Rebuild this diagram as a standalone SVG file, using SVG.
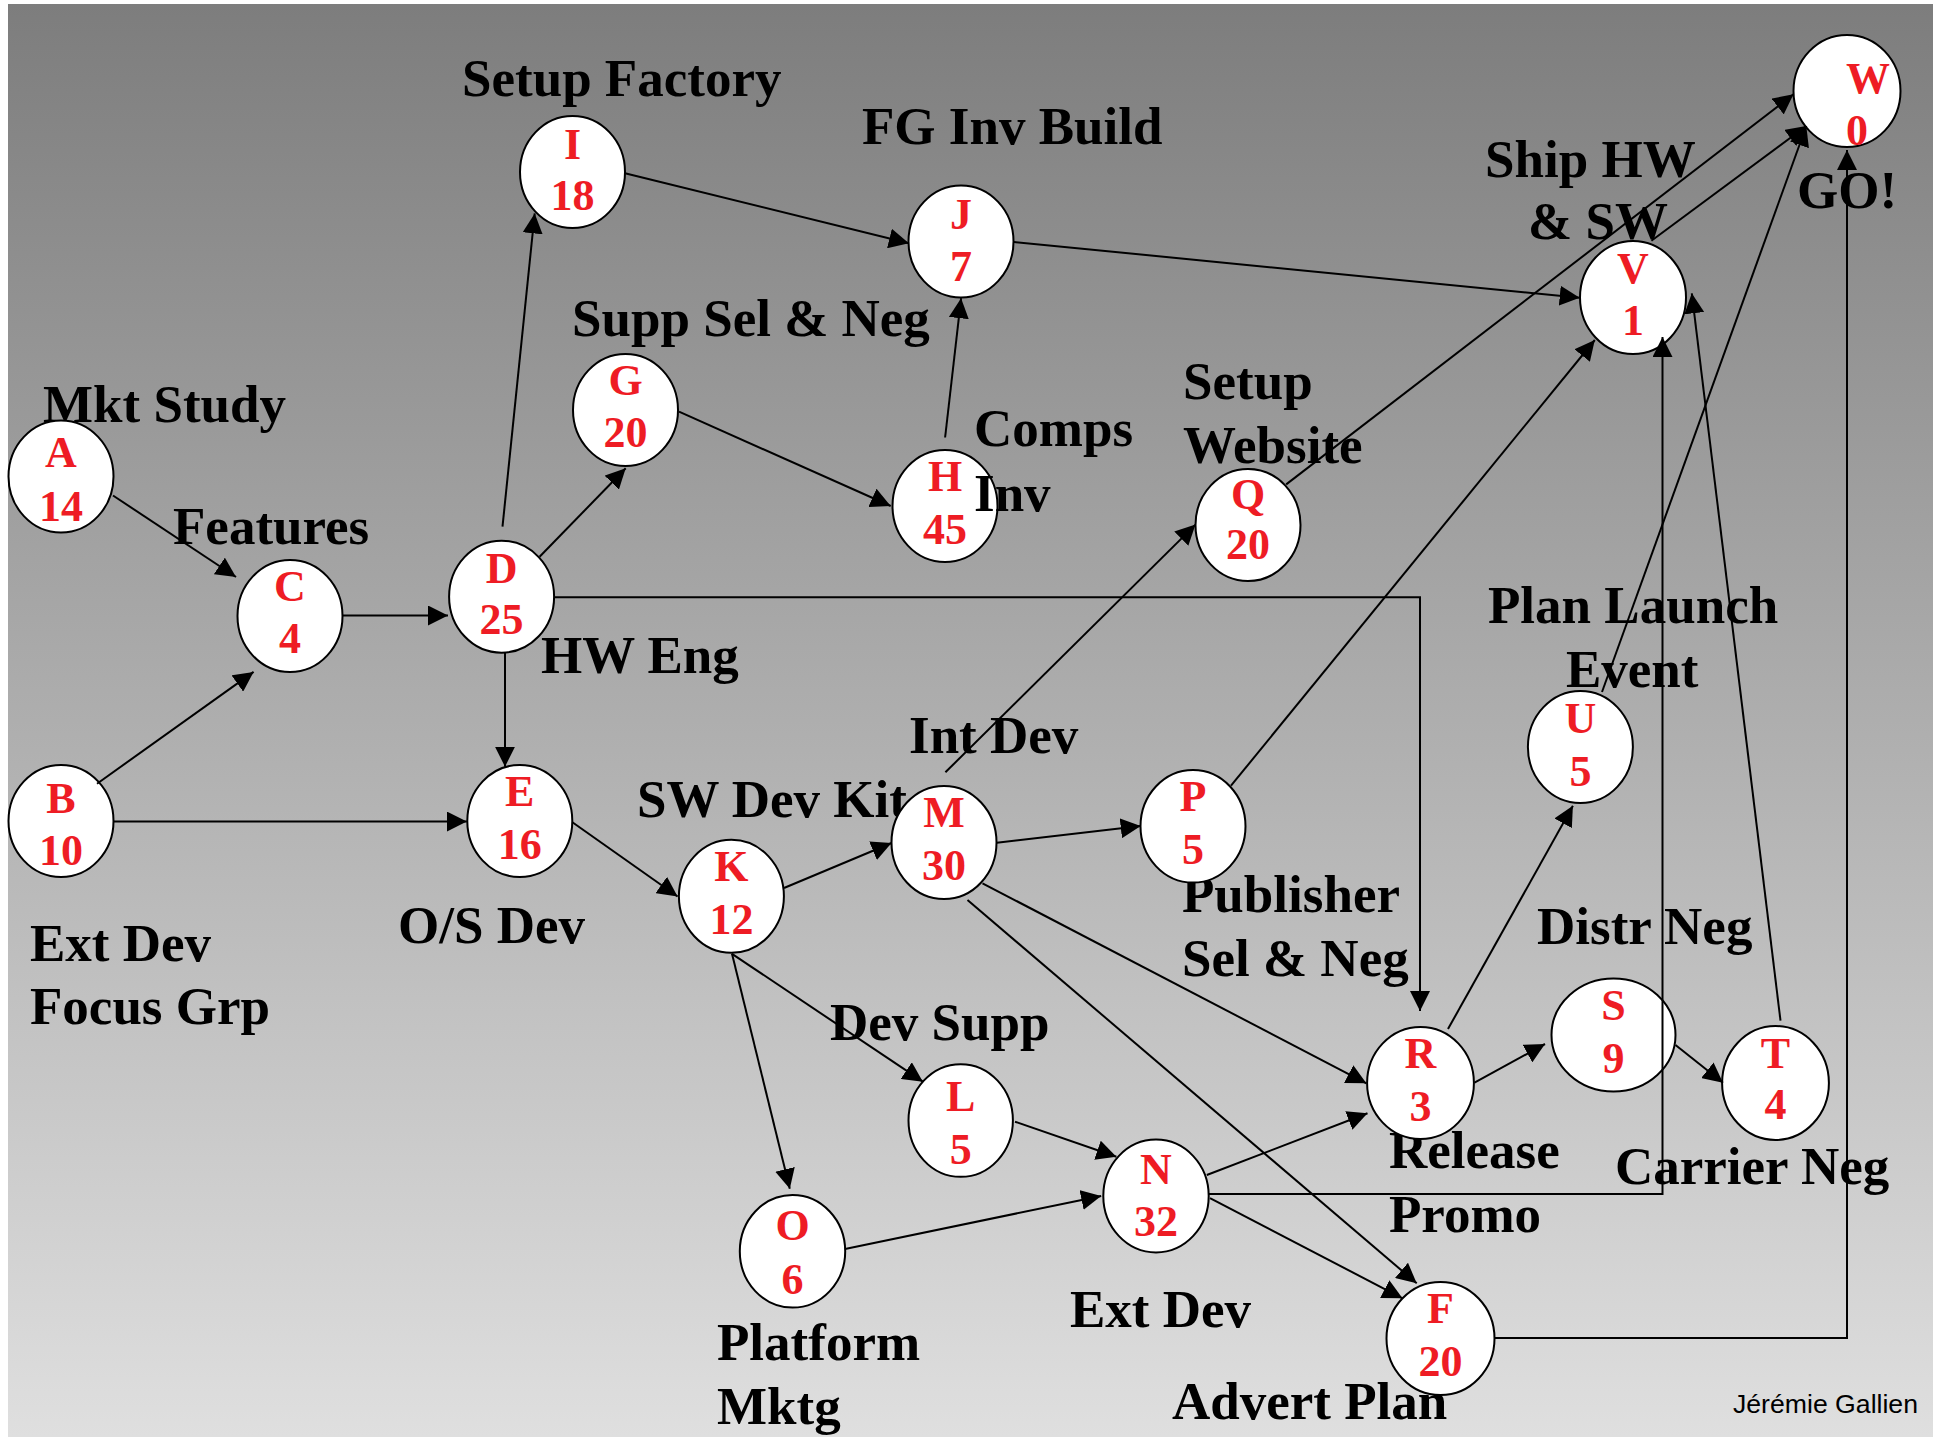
<svg xmlns="http://www.w3.org/2000/svg" width="1933" height="1437" viewBox="0 0 1933 1437">
<defs>
<linearGradient id="bg" x1="0" y1="0" x2="0" y2="1">
<stop offset="0" stop-color="#7d7d7d"/>
<stop offset="1" stop-color="#dfdfdf"/>
</linearGradient>
<marker id="ah" viewBox="0 0 20 20" refX="20" refY="10" markerWidth="20" markerHeight="20" markerUnits="userSpaceOnUse" orient="auto">
<path d="M0,0 L20,10 L0,20 z" fill="#000"/>
</marker>
<style>
.lbl{font-family:"Liberation Serif","Times New Roman",serif;font-weight:bold;font-size:53px;fill:#000}
.nd ellipse{fill:#fff;stroke:#000;stroke-width:2}
.nd text{font-family:"Liberation Serif","Times New Roman",serif;font-weight:bold;font-size:44px;fill:#ee1c24;text-anchor:middle}
.c{fill:none;stroke:#000;stroke-width:2;marker-end:url(#ah)}
.sig{font-family:"Liberation Sans",Arial,sans-serif;font-size:25px;fill:#000}
</style>
</defs>
<rect x="0" y="0" width="1933" height="1437" fill="#fff"/>
<rect x="8" y="4" width="1925" height="1433" fill="url(#bg)"/>

<g id="labels">
<text class="lbl" x="462" y="96">Setup Factory</text>
<text class="lbl" x="862" y="144">FG Inv Build</text>
<text class="lbl" x="572" y="336">Supp Sel &amp; Neg</text>
<text class="lbl" x="43" y="422">Mkt Study</text>
<text class="lbl" x="173" y="544">Features</text>
<text class="lbl" x="541" y="673">HW Eng</text>
<text class="lbl" x="1183" y="399">Setup</text>
<text class="lbl" x="1183" y="463">Website</text>
<text class="lbl" x="1485" y="177">Ship HW</text>
<text class="lbl" x="1528" y="239">&amp; SW</text>
<text class="lbl" x="1797" y="208">GO!</text>
<text class="lbl" x="1488" y="623">Plan Launch</text>
<text class="lbl" x="1566" y="687">Event</text>
<text class="lbl" x="909" y="753">Int Dev</text>
<text class="lbl" x="637" y="817">SW Dev Kit</text>
<text class="lbl" x="1182" y="912">Publisher</text>
<text class="lbl" x="1182" y="976">Sel &amp; Neg</text>
<text class="lbl" x="1537" y="944">Distr Neg</text>
<text class="lbl" x="830" y="1040">Dev Supp</text>
<text class="lbl" x="1389" y="1168">Release</text>
<text class="lbl" x="1389" y="1232">Promo</text>
<text class="lbl" x="1615" y="1184">Carrier Neg</text>
<text class="lbl" x="1070" y="1327">Ext Dev</text>
<text class="lbl" x="1172" y="1419">Advert Plan</text>
<text class="lbl" x="30" y="961">Ext Dev</text>
<text class="lbl" x="30" y="1024">Focus Grp</text>
<text class="lbl" x="398" y="943">O/S Dev</text>
<text class="lbl" x="717" y="1360">Platform</text>
<text class="lbl" x="717" y="1424">Mktg</text>
<text class="sig" x="1733" y="1413" textLength="185" lengthAdjust="spacingAndGlyphs">Jérémie Gallien</text>
</g>

<g id="node-A" class="nd"><ellipse cx="61" cy="476.5" rx="52.5" ry="56"/><text x="61" y="466.5">A</text><text x="61" y="520.5">14</text></g>
<g id="node-B" class="nd"><ellipse cx="61" cy="821" rx="52.5" ry="56"/><text x="61" y="813">B</text><text x="61" y="865">10</text></g>
<g id="node-C" class="nd"><ellipse cx="290" cy="616" rx="52.5" ry="56"/><text x="290" y="601">C</text><text x="290" y="653">4</text></g>
<g id="node-D" class="nd"><ellipse cx="501.6" cy="596.7" rx="52.5" ry="56"/><text x="501.6" y="582.7">D</text><text x="501.6" y="634">25</text></g>
<g id="node-E" class="nd"><ellipse cx="519.8" cy="821" rx="52.5" ry="56"/><text x="519.8" y="806">E</text><text x="519.8" y="859">16</text></g>
<g id="node-G" class="nd"><ellipse cx="625.5" cy="410" rx="52.5" ry="56"/><text x="625.5" y="395">G</text><text x="625.5" y="447">20</text></g>
<g id="node-I" class="nd"><ellipse cx="572.5" cy="172" rx="52.5" ry="56"/><text x="572.5" y="158.5">I</text><text x="572.5" y="210">18</text></g>
<g id="node-J" class="nd"><ellipse cx="961" cy="241.5" rx="52.5" ry="56"/><text x="961" y="228.5">J</text><text x="961" y="281">7</text></g>
<g id="node-H" class="nd"><ellipse cx="945" cy="506" rx="52.5" ry="56"/><text x="945" y="491">H</text><text x="945" y="544">45</text></g>
<g id="node-Q" class="nd"><ellipse cx="1248" cy="525" rx="52.5" ry="56"/><text x="1248" y="509">Q</text><text x="1248" y="559">20</text></g>
<g id="node-V" class="nd"><ellipse cx="1633" cy="297.5" rx="53" ry="56.5"/><text x="1633" y="283">V</text><text x="1633" y="335">1</text></g>
<g id="node-W" class="nd"><ellipse cx="1847" cy="91" rx="53.5" ry="56"/><text x="1846" y="93" style="text-anchor:start">W</text><text x="1846" y="145" style="text-anchor:start">0</text></g>
<g id="node-U" class="nd"><ellipse cx="1580.4" cy="747" rx="52.5" ry="56"/><text x="1580.4" y="733">U</text><text x="1580.4" y="785.5">5</text></g>
<g id="node-M" class="nd"><ellipse cx="944" cy="842.5" rx="52.5" ry="56.5"/><text x="944" y="827.3">M</text><text x="944" y="880">30</text></g>
<g id="node-P" class="nd"><ellipse cx="1193" cy="826.3" rx="52.5" ry="56.3"/><text x="1193" y="810.7">P</text><text x="1193" y="864">5</text></g>
<g id="node-K" class="nd"><ellipse cx="731.4" cy="896.3" rx="52.5" ry="56.5"/><text x="731.4" y="881">K</text><text x="731.4" y="934">12</text></g>
<g id="node-L" class="nd"><ellipse cx="960.7" cy="1120.5" rx="52.2" ry="56.3"/><text x="960.7" y="1110.7">L</text><text x="960.7" y="1164">5</text></g>
<g id="node-O" class="nd"><ellipse cx="792.5" cy="1251.3" rx="52.7" ry="56.3"/><text x="792.5" y="1239.5">O</text><text x="792.5" y="1294">6</text></g>
<g id="node-N" class="nd"><ellipse cx="1156" cy="1196" rx="52.7" ry="56.4"/><text x="1156" y="1184">N</text><text x="1156" y="1236">32</text></g>
<g id="node-R" class="nd"><ellipse cx="1420.5" cy="1083" rx="53.4" ry="56"/><text x="1420.5" y="1068">R</text><text x="1420.5" y="1121">3</text></g>
<g id="node-S" class="nd"><ellipse cx="1613.5" cy="1035" rx="62" ry="56.5"/><text x="1613.5" y="1020">S</text><text x="1613.5" y="1073">9</text></g>
<g id="node-T" class="nd"><ellipse cx="1775.5" cy="1083" rx="53.4" ry="57"/><text x="1775.5" y="1068.3">T</text><text x="1775.5" y="1119.3">4</text></g>
<g id="node-F" class="nd"><ellipse cx="1440.5" cy="1338.5" rx="54" ry="56.5"/><text x="1440.5" y="1323">F</text><text x="1440.5" y="1376">20</text></g>

<g id="connectors">
<line class="c" x1="113" y1="495.5" x2="236" y2="577"/>
<line class="c" x1="97" y1="783.7" x2="253.6" y2="671.9"/>
<line class="c" x1="113.5" y1="821.5" x2="466.8" y2="821.5"/>
<line class="c" x1="342.5" y1="615.5" x2="448" y2="615.5"/>
<line class="c" x1="502.5" y1="526.7" x2="534.7" y2="213.4"/>
<line class="c" x1="539.6" y1="556.7" x2="625.7" y2="468.3"/>
<line class="c" x1="505" y1="652.7" x2="505" y2="766.7"/>
<polyline class="c" points="554,597.3 1420,597.3 1420,1011"/>
<line class="c" x1="625" y1="173.2" x2="908.9" y2="243.3"/>
<line class="c" x1="679" y1="411.7" x2="890.7" y2="506"/>
<line class="c" x1="945.1" y1="437.5" x2="961.1" y2="298.2"/>
<line class="c" x1="1014" y1="242" x2="1579.7" y2="297.7"/>
<line class="c" x1="572.4" y1="822.2" x2="677.6" y2="896.5"/>
<line class="c" x1="784" y1="888" x2="891.5" y2="843"/>
<line class="c" x1="732" y1="953.8" x2="922.9" y2="1081.7"/>
<line class="c" x1="732" y1="953.8" x2="789.8" y2="1188.8"/>
<line class="c" x1="945.4" y1="772.3" x2="1195.5" y2="524.6"/>
<line class="c" x1="996.8" y1="842.7" x2="1140.7" y2="826"/>
<line class="c" x1="982.5" y1="883.3" x2="1366.4" y2="1083.3"/>
<line class="c" x1="967.5" y1="900" x2="1416.7" y2="1283.3"/>
<line class="c" x1="1231" y1="785.7" x2="1594.8" y2="340"/>
<line class="c" x1="1286.2" y1="484.4" x2="1793.5" y2="94.3"/>
<line class="c" x1="1651.4" y1="240.7" x2="1806.3" y2="126"/>
<line class="c" x1="1602" y1="692" x2="1806.3" y2="126"/>
<polyline class="c" points="1208.5,1194 1662.5,1194 1662.5,337"/>
<line class="c" x1="1780.5" y1="1020.7" x2="1691.8" y2="293.3"/>
<line class="c" x1="1448" y1="1029" x2="1572.9" y2="805.8"/>
<line class="c" x1="1474.5" y1="1082.7" x2="1545" y2="1044"/>
<line class="c" x1="1675.5" y1="1045" x2="1723" y2="1082.7"/>
<line class="c" x1="1015" y1="1121.7" x2="1116.4" y2="1156.7"/>
<line class="c" x1="845" y1="1249" x2="1101.2" y2="1195.9"/>
<line class="c" x1="1206.8" y1="1175" x2="1367.5" y2="1113.3"/>
<line class="c" x1="1210" y1="1198.2" x2="1402.5" y2="1298.3"/>
<polyline class="c" points="1494.5,1338 1847,1338 1847,150"/>
</g>

<g id="labels-over">
<text class="lbl" x="974" y="446">Comps</text>
<text class="lbl" x="974" y="511">Inv</text>
</g>
</svg>
